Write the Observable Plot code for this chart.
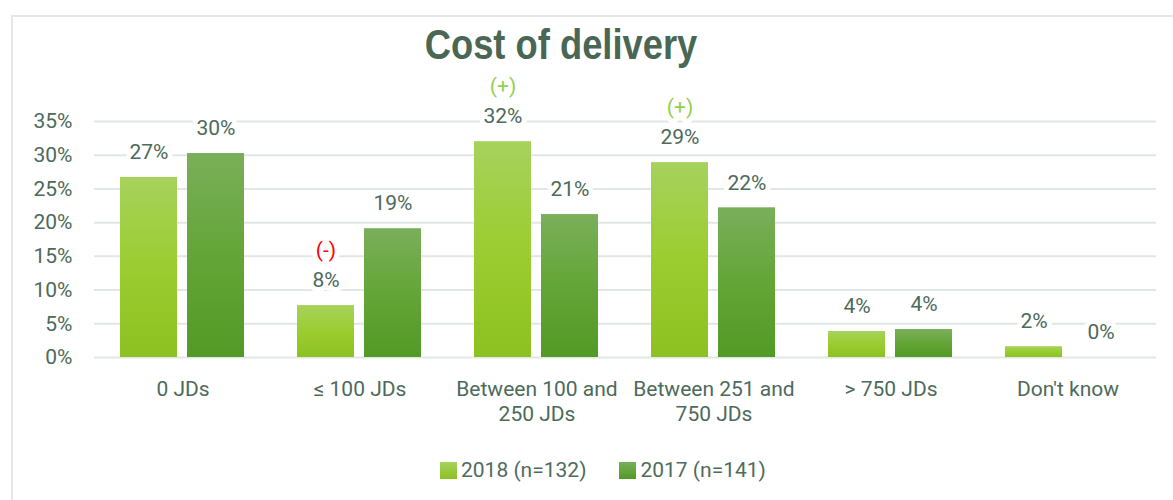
<!DOCTYPE html>
<html>
<head>
<meta charset="utf-8">
<script src="https://cdn.jsdelivr.net/npm/d3@7"></script>
<script src="https://cdn.jsdelivr.net/npm/@observablehq/plot@0.6"></script>
<style>
  html, body { margin: 0; padding: 0; background: white; }
  body { position: relative; width: 1173px; height: 500px; overflow: hidden; font-family: Roboto, sans-serif; }
  #frame { position: absolute; left: 11px; top: 15px; width: 1200px; height: 520px; border: 2px solid #e3e8e6; box-sizing: border-box; }
  #title { position: absolute; left: 0; top: 19px; width: 1122px; text-align: center; font-family: "Liberation Sans", sans-serif; font-weight: bold; font-size: 43px; line-height: 50px; color: #4a6654; transform: scaleX(0.845); transform-origin: 561px 0; }
  #chart { position: absolute; left: 0; top: 0; }
  #legend { position: absolute; left: 440px; top: 458px; display: flex; align-items: center; font-size: 21px; color: #4f6b5d; }
  .sw { width: 17px; height: 17px; display: inline-block; margin-right: 4px; }
  .item { display: flex; align-items: center; margin-right: 33px; }
</style>
</head>
<body>
<div id="frame"></div>
<div id="chart"></div>
<div id="title">Cost of delivery</div>
<div id="legend"></div>
<script>
const categories = ["0 JDs", "≤ 100 JDs", "Between 100 and 250 JDs", "Between 251 and 750 JDs", "> 750 JDs", "Don't know"];
const tickLabels = ["0 JDs", "≤ 100 JDs", "Between 100 and\n250 JDs", "Between 251 and\n750 JDs", "> 750 JDs", "Don't know"];
const series = ["2018", "2017"];
const seriesLabels = ["2018 (n=132)", "2017 (n=141)"];
const values2018 = [26.7, 7.7, 32.0, 28.9, 3.85, 1.6];
const values2017 = [30.25, 19.1, 21.2, 22.2, 4.15, 0];
const labels2018 = ["27%", "8%", "32%", "29%", "4%", "2%"];
const labels2017 = ["30%", "19%", "21%", "22%", "4%", "0%"];
const significance2018 = ["", "(-)", "(+)", "(+)", "", ""];
const yTicks = [0, 5, 10, 15, 20, 25, 30, 35];

const textColor = "#4d6a5b";
const gridColor = "#e1e7e4";

const d18 = categories.map((c, i) => ({category: c, series: "2018", value: values2018[i], label: labels2018[i], sig: significance2018[i]}));
const d17 = categories.map((c, i) => ({category: c, series: "2017", value: values2017[i], label: labels2017[i]}));
const all = d18.concat(d17);
const tickMap = new Map(categories.map((c, i) => [c, tickLabels[i]]));

const chart = Plot.plot({
  width: 1173,
  height: 440,
  marginTop: 121,
  marginBottom: 83,
  marginLeft: 92,
  marginRight: 15,
  style: {background: "transparent", fontFamily: "Roboto, sans-serif", fontSize: "21px", color: textColor, overflow: "visible"},
  fx: {domain: categories, paddingInner: 0, paddingOuter: 0, label: null, axis: null},
  x: {domain: series, paddingInner: 0.147, paddingOuter: 0.382, axis: null},
  y: {domain: [0, 35], axis: null},
  marks: [
    Plot.ruleY(yTicks, {stroke: gridColor, strokeWidth: 2}),
    Plot.axisY({ticks: yTicks, tickFormat: d => d + "%", tickSize: 0, tickPadding: 22, fontSize: 21, fill: textColor, label: null}),
    Plot.axisFx({anchor: "bottom", tickSize: 0, tickPadding: 20, fontSize: 21, fill: textColor, label: null, tickFormat: d => tickMap.get(d), lineHeight: 1.22}),
    Plot.barY(d18, {fx: "category", x: "series", y: "value", fill: "url(#g18)"}),
    Plot.barY(d17, {fx: "category", x: "series", y: "value", fill: "url(#g17)"}),
    Plot.text(all, {fx: "category", x: "series", y: "value", text: "label", dy: -25, fill: textColor, stroke: "white", strokeWidth: 10, paintOrder: "stroke", fontSize: 21}),
    Plot.text(d18.filter(d => d.sig === "(+)"), {fx: "category", x: "series", y: "value", text: "sig", dy: -55, fill: "#92d050", stroke: "white", strokeWidth: 10, paintOrder: "stroke", fontSize: 21}),
    Plot.text(d18.filter(d => d.sig === "(-)"), {fx: "category", x: "series", y: "value", text: "sig", dy: -55, fill: "#ff0000", stroke: "white", strokeWidth: 10, paintOrder: "stroke", fontSize: 21})
  ]
});

const defs = `
<defs>
  <linearGradient id="g18" x1="0" y1="0" x2="0" y2="1">
    <stop offset="0" stop-color="#a6d25c"/>
    <stop offset="0.5" stop-color="#9bcd30"/>
    <stop offset="1" stop-color="#8dc021"/>
  </linearGradient>
  <linearGradient id="g17" x1="0" y1="0" x2="0" y2="1">
    <stop offset="0" stop-color="#7aaf5a"/>
    <stop offset="0.5" stop-color="#64a537"/>
    <stop offset="1" stop-color="#529a25"/>
  </linearGradient>
</defs>`;
d3.select(chart).insert("g", ":first-child").html(defs);
document.getElementById("chart").appendChild(chart);

const legend = document.getElementById("legend");
const swatchFill = ["linear-gradient(#a6d25c, #8dc021)", "linear-gradient(#7aaf5a, #529a25)"];
seriesLabels.forEach((s, i) => {
  const item = document.createElement("div");
  item.className = "item";
  const sw = document.createElement("span");
  sw.className = "sw";
  sw.style.background = swatchFill[i];
  const t = document.createElement("span");
  t.textContent = s;
  item.appendChild(sw);
  item.appendChild(t);
  legend.appendChild(item);
});
</script>
</body>
</html>
